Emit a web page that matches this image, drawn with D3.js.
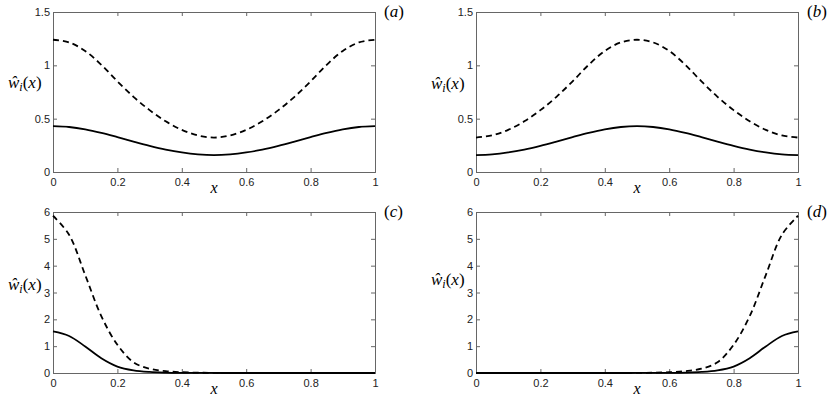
<!DOCTYPE html>
<html>
<head>
<meta charset="utf-8">
<script src="https://cdn.jsdelivr.net/npm/d3@7"></script>
<style>
  body { margin: 0; background: #fff; }
</style>
</head>
<body>
<div class="container"></div>
<script>
// Data
const xs = [0, 0.05, 0.1, 0.15, 0.2, 0.25, 0.3, 0.35, 0.4, 0.45, 0.5, 0.55, 0.6, 0.65, 0.7, 0.75, 0.8, 0.85, 0.9, 0.95, 1];

const dashedA = [1.24, 1.215, 1.135, 1.005, 0.85, 0.705, 0.58, 0.475, 0.395, 0.343, 0.323, 0.343, 0.395, 0.475, 0.58, 0.705, 0.85, 1.005, 1.135, 1.215, 1.24];
const solidA  = [0.43, 0.422, 0.40, 0.367, 0.327, 0.285, 0.245, 0.21, 0.183, 0.165, 0.158, 0.165, 0.183, 0.21, 0.245, 0.285, 0.327, 0.367, 0.40, 0.422, 0.43];

const dashedB = [0.323, 0.343, 0.395, 0.475, 0.58, 0.705, 0.85, 1.005, 1.135, 1.215, 1.24, 1.215, 1.135, 1.005, 0.85, 0.705, 0.58, 0.475, 0.395, 0.343, 0.323];
const solidB  = [0.158, 0.165, 0.183, 0.21, 0.245, 0.285, 0.327, 0.367, 0.40, 0.422, 0.43, 0.422, 0.40, 0.367, 0.327, 0.285, 0.245, 0.21, 0.183, 0.165, 0.158];

const dashedC = [5.86, 5.15, 3.65, 2.12, 1.05, 0.40, 0.16, 0.07, 0.03, 0.012, 0.005, 0.002, 0.001, 0, 0, 0, 0, 0, 0, 0, 0];
const solidC  = [1.55, 1.38, 0.99, 0.55, 0.24, 0.10, 0.04, 0.015, 0.005, 0.002, 0.001, 0, 0, 0, 0, 0, 0, 0, 0, 0, 0];

const dashedD = [0, 0, 0, 0, 0, 0, 0, 0, 0.001, 0.002, 0.005, 0.012, 0.03, 0.07, 0.16, 0.40, 1.05, 2.12, 3.65, 5.15, 5.86];
const solidD  = [0, 0, 0, 0, 0, 0, 0, 0, 0, 0, 0.001, 0.002, 0.005, 0.015, 0.04, 0.10, 0.24, 0.55, 0.99, 1.38, 1.55];

const xTicks = [0, 0.2, 0.4, 0.6, 0.8, 1];
const yTicksTop = [0, 0.5, 1, 1.5];
const yTicksBottom = [0, 1, 2, 3, 4, 5, 6];
const panelNames = ["(a)", "(b)", "(c)", "(d)"];

// Layout
const w = 828;
const h = 397;
const cols = [53, 476];
const plotW = 322;
const rows = [{top: 12, bottom: 172}, {top: 212, bottom: 373}];
const labelY = [83, 84, 285, 280];

const panels = [
  {name: panelNames[0], col: 0, row: 0, ymax: 1.5, yTicks: yTicksTop, dashed: dashedA, solid: solidA},
  {name: panelNames[1], col: 1, row: 0, ymax: 1.5, yTicks: yTicksTop, dashed: dashedB, solid: solidB},
  {name: panelNames[2], col: 0, row: 1, ymax: 6, yTicks: yTicksBottom, dashed: dashedC, solid: solidC},
  {name: panelNames[3], col: 1, row: 1, ymax: 6, yTicks: yTicksBottom, dashed: dashedD, solid: solidD}
];

const svg = d3.select(".container")
  .append("svg")
  .attr("width", w)
  .attr("height", h);

const tickFont = "'Liberation Sans', Arial, sans-serif";
const mathFont = "'Liberation Serif', 'DejaVu Serif', serif";

panels.forEach((p, i) => {
  const left = cols[p.col];
  const right = left + plotW;
  const top = rows[p.row].top;
  const bottom = rows[p.row].bottom;

  const xScale = d3.scaleLinear().domain([0, 1]).range([left, right]);
  const yScale = d3.scaleLinear().domain([0, p.ymax]).range([bottom, top]);

  const g = svg.append("g");

  // axes with inward ticks, box on all sides
  const fmt = d => d3.format("")(d);
  g.append("g")
    .attr("transform", `translate(0,${bottom})`)
    .call(d3.axisBottom(xScale).tickValues(xTicks).tickSize(-4).tickPadding(6).tickFormat(fmt));
  g.append("g")
    .attr("transform", `translate(0,${top})`)
    .call(d3.axisTop(xScale).tickValues(xTicks).tickSize(-4).tickFormat(""));
  g.append("g")
    .attr("transform", `translate(${left},0)`)
    .call(d3.axisLeft(yScale).tickValues(p.yTicks).tickSize(-4).tickPadding(3).tickFormat(fmt));
  g.append("g")
    .attr("transform", `translate(${right},0)`)
    .call(d3.axisRight(yScale).tickValues(p.yTicks).tickSize(-4).tickFormat(""));

  g.selectAll(".domain").attr("stroke", "#666").attr("stroke-width", 1);
  g.selectAll(".tick line").attr("stroke", "#666");
  g.selectAll(".tick text")
    .attr("font-family", tickFont)
    .attr("font-size", "11px")
    .attr("fill", "#222");

  const line = d3.line()
    .x((d, k) => xScale(xs[k]))
    .y(d => yScale(Math.max(0, d)))
    .curve(d3.curveCatmullRom.alpha(0.5));

  g.append("path")
    .datum(p.dashed)
    .attr("d", line)
    .attr("fill", "none")
    .attr("stroke", "#000")
    .attr("stroke-width", 1.8)
    .attr("stroke-dasharray", "6,4");

  g.append("path")
    .datum(p.solid)
    .attr("d", line)
    .attr("fill", "none")
    .attr("stroke", "#000")
    .attr("stroke-width", 1.8);

  // x label
  g.append("text")
    .attr("x", (left + right) / 2)
    .attr("y", bottom + 21)
    .attr("text-anchor", "middle")
    .attr("font-family", mathFont)
    .attr("font-style", "italic")
    .attr("font-size", "16px")
    .text("x");

  // y label  ŵ_i(x)
  const yl = g.append("text")
    .attr("x", left - 45)
    .attr("y", labelY[i] + 5)
    .attr("font-family", mathFont)
    .attr("font-size", "17px")
    .attr("fill", "#000");
  yl.append("tspan").attr("font-style", "italic").text("\u0175");
  yl.append("tspan").attr("font-style", "italic").attr("font-size", "12px").attr("dy", 3).text("i");
  yl.append("tspan").attr("dy", -3).text("(");
  yl.append("tspan").attr("font-style", "italic").text("x");
  yl.append("tspan").text(")");

  // panel letter
  const pl = g.append("text")
    .attr("x", right + 9)
    .attr("y", top + 5)
    .attr("font-family", mathFont)
    .attr("font-size", "17px");
  pl.append("tspan").text("(");
  pl.append("tspan").attr("font-style", "italic").text(p.name.slice(1, 2));
  pl.append("tspan").text(")");
});
</script>
</body>
</html>
